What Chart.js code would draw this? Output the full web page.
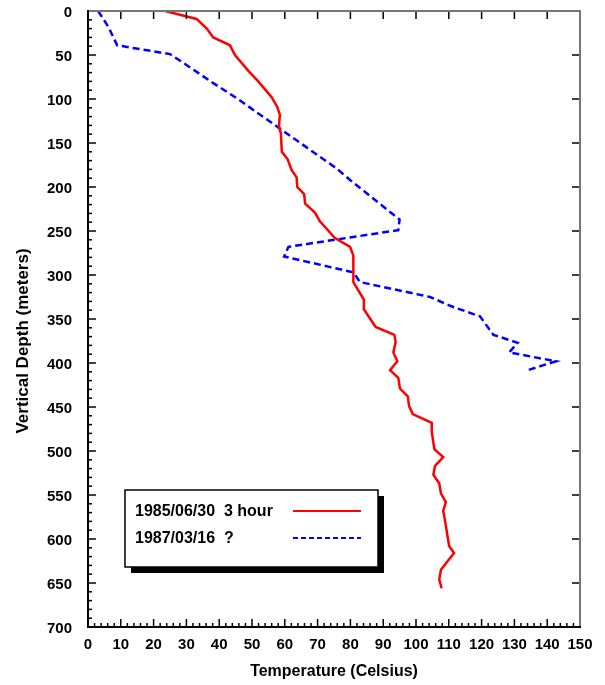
<!DOCTYPE html>
<html>
<head>
<meta charset="utf-8">
<script src="https://cdn.jsdelivr.net/npm/chart.js@4.4.1/dist/chart.umd.min.js"></script>
<style>
  html, body { margin: 0; padding: 0; background: #fff; }
  canvas { display: block; }
</style>
</head>
<body>
<canvas id="tempChart" width="605" height="685"></canvas>
<script>
// 1985/06/30 3 hour log
const redTemp  = [23.5, 33.1, 36.2, 38.2, 43.3, 44.8, 48.9, 51.9, 56.0, 57.7, 58.5, 58.2, 58.8, 59.1, 60.8, 62.1, 63.6, 63.8, 65.9, 66.2,
                  69.2, 70.7, 75.3, 79.9, 80.9, 80.9, 84.1, 84.1, 87.7, 93.4, 93.8, 93.1, 94.3, 92.1, 94.6, 95.1, 97.5, 97.9, 99.0, 104.8,
                  104.8, 105.6, 108.3, 105.8, 105.3, 107.1, 107.6, 109.1, 108.3, 108.8, 110.1, 111.6, 107.6, 107.1, 107.8];
const redDepth = [0, 9, 20, 30, 39, 50, 68, 80, 98, 109, 118, 131, 139, 160, 168, 181, 189, 200, 208, 219,
                  229, 239, 258, 268, 278, 308, 328, 339, 359, 368, 376, 388, 398, 408, 417, 429, 438, 449, 458, 468,
                  478, 498, 507, 517, 527, 537, 548, 558, 568, 578, 608, 616, 635, 646, 656];

// 1987/03/16 ? log
const blueTemp  = [3.1, 6.2, 8.9, 25.0, 29.1, 38.2, 45.3, 57.5, 75.8, 79.9, 95.0, 94.6, 61.1, 59.8, 80.9, 82.9, 104.3, 110.4, 119.5,
                   123.6, 131.0, 128.4, 142.7, 134.2];
const blueDepth = [0, 18, 39, 49, 59, 82, 99, 131, 179, 192, 237, 249, 268, 279, 297, 308, 325, 335, 347,
                   368, 377, 388, 398, 408];

const seriesLabels = ['1985/06/30  3 hour', '1987/03/16  ?'];
const xTicks = [0, 10, 20, 30, 40, 50, 60, 70, 80, 90, 100, 110, 120, 130, 140, 150];
const yTicks = [0, 50, 100, 150, 200, 250, 300, 350, 400, 450, 500, 550, 600, 650, 700];
const xTitle = 'Temperature (Celsius)';
const yTitle = 'Vertical Depth (meters)';

const toPoints = (xs, ys) => xs.map((v, i) => ({ x: v, y: ys[i] }));
const family = 'Liberation Sans, Arial, sans-serif';
const tickFont = { family: family, size: 15, weight: 'bold' };

const data = {
  datasets: [
    {
      label: seriesLabels[0],
      data: toPoints(redTemp, redDepth),
      borderColor: '#ff0000',
      borderWidth: 2.5,
      pointRadius: 0,
      tension: 0
    },
    {
      label: seriesLabels[1],
      data: toPoints(blueTemp, blueDepth),
      borderColor: '#0000ff',
      borderWidth: 2.5,
      borderDash: [7, 4],
      pointRadius: 0,
      tension: 0
    }
  ]
};

// inward tick marks, frame, y title and the boxed legend
const framePlugin = {
  id: 'frame',
  afterDraw(chart) {
    const { ctx, chartArea: a, scales: { x, y } } = chart;
    ctx.save();
    ctx.lineCap = 'butt';

    ctx.strokeStyle = '#000';
    ctx.lineWidth = 1.5;
    for (let v = 0; v <= 150; v += 2) {
      const px = x.getPixelForValue(v);
      const major = v % 10 === 0;
      ctx.beginPath();
      ctx.moveTo(px, a.bottom);
      ctx.lineTo(px, a.bottom - (major ? 8 : 4));
      ctx.stroke();
      if (major) {
        ctx.beginPath();
        ctx.moveTo(px, a.top);
        ctx.lineTo(px, a.top + 8);
        ctx.stroke();
      }
    }
    for (let v = 0; v <= 700; v += 10) {
      const py = y.getPixelForValue(v);
      const major = v % 50 === 0;
      ctx.beginPath();
      ctx.moveTo(a.left, py);
      ctx.lineTo(a.left + (major ? 8 : 4), py);
      ctx.stroke();
      if (major) {
        ctx.beginPath();
        ctx.moveTo(a.right, py);
        ctx.lineTo(a.right - 8, py);
        ctx.stroke();
      }
    }

    ctx.lineWidth = 2;
    ctx.strokeStyle = '#777';
    ctx.beginPath();
    ctx.moveTo(a.left, a.top);
    ctx.lineTo(a.right, a.top);
    ctx.lineTo(a.right, a.bottom);
    ctx.stroke();
    ctx.strokeStyle = '#000';
    ctx.beginPath();
    ctx.moveTo(a.left, a.top - 1);
    ctx.lineTo(a.left, a.bottom);
    ctx.lineTo(a.right + 1, a.bottom);
    ctx.stroke();

    // y axis title
    ctx.save();
    ctx.translate(23, y.getPixelForValue(375));
    ctx.rotate(-Math.PI / 2);
    ctx.font = 'bold 17px ' + family;
    ctx.fillStyle = '#000';
    ctx.textAlign = 'center';
    ctx.textBaseline = 'middle';
    ctx.fillText(yTitle, 0, 0);
    ctx.restore();

    // legend box
    const bx = 125, by = 490, bw = 253, bh = 77;
    ctx.fillStyle = '#000';
    ctx.fillRect(bx + 6, by + 6, bw, bh);
    ctx.fillStyle = '#fff';
    ctx.fillRect(bx, by, bw, bh);
    ctx.lineWidth = 1.5;
    ctx.strokeRect(bx, by, bw, bh);

    ctx.font = 'bold 16px ' + family;
    ctx.textBaseline = 'middle';
    ctx.textAlign = 'left';
    const rows = [512, 539];
    chart.data.datasets.forEach((ds, i) => {
      ctx.fillStyle = '#000';
      ctx.fillText(ds.label, 135, rows[i]);
      ctx.strokeStyle = ds.borderColor;
      ctx.lineWidth = 2;
      ctx.setLineDash(ds.borderDash ? [5, 3] : []);
      ctx.beginPath();
      ctx.moveTo(293, rows[i] - 1);
      ctx.lineTo(361, rows[i] - 1);
      ctx.stroke();
      ctx.setLineDash([]);
    });
    ctx.restore();
  }
};

const config = {
  type: 'line',
  data: data,
  plugins: [framePlugin],
  options: {
    responsive: false,
    animation: false,
    layout: { padding: { top: 11, right: 25, left: 0, bottom: 0 } },
    scales: {
      x: {
        type: 'linear',
        position: 'bottom',
        min: 0,
        max: 150,
        grid: { display: false, drawTicks: false },
        border: { display: false },
        afterBuildTicks: s => { s.ticks = xTicks.map(v => ({ value: v })); },
        afterFit: s => { s.height = 58; s.paddingLeft = 0; s.paddingRight = 0; },
        ticks: { font: tickFont, color: '#000', padding: 9, maxRotation: 0, autoSkip: false },
        title: {
          display: true,
          text: xTitle,
          font: { family: family, size: 16, weight: 'bold' },
          color: '#000',
          padding: { top: 0, bottom: 4 }
        }
      },
      y: {
        type: 'linear',
        reverse: true,
        min: 0,
        max: 700,
        grid: { display: false, drawTicks: false },
        border: { display: false },
        afterBuildTicks: s => { s.ticks = yTicks.map(v => ({ value: v })); },
        afterFit: s => { s.width = 88; s.paddingTop = 0; s.paddingBottom = 0; },
        ticks: { font: tickFont, color: '#000', padding: 16, labelOffset: 2, autoSkip: false },
        title: { display: false }
      }
    },
    plugins: {
      legend: { display: false },
      tooltip: { enabled: false }
    }
  }
};

const ctx = document.getElementById('tempChart').getContext('2d');
const tempChart = new Chart(ctx, config);
</script>
</body>
</html>
